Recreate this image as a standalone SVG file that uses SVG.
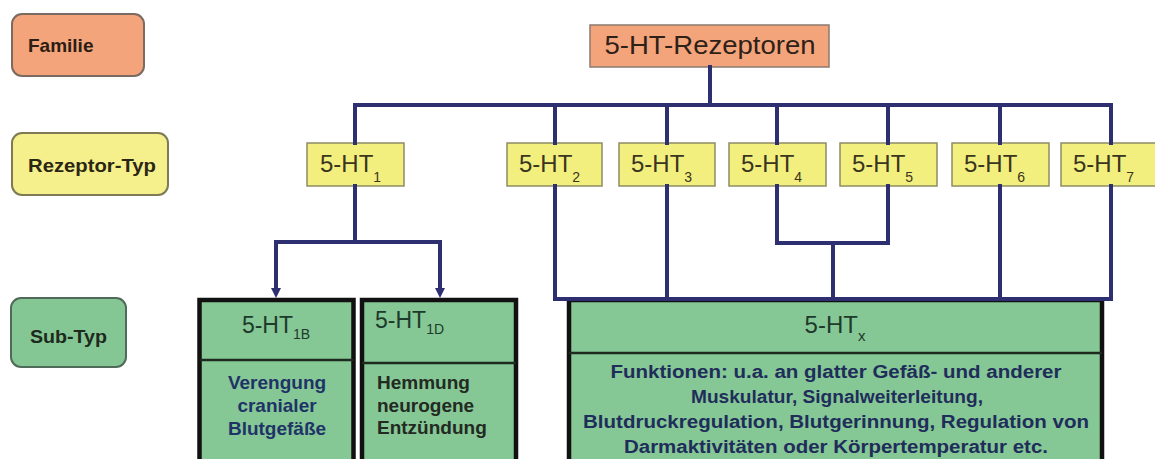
<svg xmlns="http://www.w3.org/2000/svg" width="1155" height="459" viewBox="0 0 1155 459">
<style>
.t{font-family:"Liberation Sans",Arial,Helvetica,sans-serif}
.b{font-weight:bold}
.ln{stroke:#2d2f70;stroke-width:4;fill:none;stroke-linejoin:miter;stroke-linecap:square}
.rt{fill:#F3EF7E;stroke:#8f8c66;stroke-width:1.5}
.rl{font-size:24px;fill:#3a3520}
.sb{font-size:14px}
.sub{fill:#86C796;stroke:#111;stroke-width:4.5}
.dv{stroke:#1d2a1d;stroke-width:2.5}
.fn{font-size:18px;fill:#1f2d5a;text-anchor:middle}
</style>
<defs>
<marker id="ah" viewBox="0 0 10 10" refX="5" refY="10" markerWidth="10" markerHeight="10" markerUnits="userSpaceOnUse" orient="auto-start-reverse">
<path d="M0,0 L10,0 L5,10 Z" fill="#2d2f70"/>
</marker>
</defs>
<rect width="1155" height="459" fill="#ffffff"/>

<g id="legend-familie">
<rect x="12" y="14" width="132" height="62" rx="10" fill="#F4A47A" stroke="#7a6a60" stroke-width="2"/>
<text class="t b" x="28" y="52" font-size="19" fill="#2b1d14">Familie</text>
</g>
<g id="legend-rezeptortyp">
<rect x="12" y="133" width="156" height="62" rx="10" fill="#F5F08C" stroke="#7d7a55" stroke-width="2"/>
<text class="t b" x="28" y="172" font-size="19" fill="#2b2614" textLength="128" lengthAdjust="spacingAndGlyphs">Rezeptor-Typ</text>
</g>
<g id="legend-subtyp">
<rect x="11" y="298" width="115" height="69" rx="10" fill="#85C794" stroke="#4f6a58" stroke-width="2"/>
<text class="t b" x="30" y="343" font-size="19" fill="#1d2a1d" textLength="77" lengthAdjust="spacingAndGlyphs">Sub-Typ</text>
</g>

<g id="family-5ht">
<rect x="590" y="25" width="239" height="42" fill="#F4A47A" stroke="#8a7a70" stroke-width="1.5"/>
<text class="t" x="710" y="54" font-size="26" fill="#2e2118" text-anchor="middle" textLength="211" lengthAdjust="spacingAndGlyphs">5-HT-Rezeptoren</text>
</g>

<g id="r1"><rect class="rt" x="307" y="143" width="97" height="43"/><text class="t rl" x="320" y="172">5-HT<tspan class="sb" dy="10">1</tspan></text></g>
<g id="r2"><rect class="rt" x="507" y="143" width="95" height="43"/><text class="t rl" x="519" y="172">5-HT<tspan class="sb" dy="10">2</tspan></text></g>
<g id="r3"><rect class="rt" x="619" y="143" width="96" height="43"/><text class="t rl" x="631" y="172">5-HT<tspan class="sb" dy="10">3</tspan></text></g>
<g id="r4"><rect class="rt" x="729" y="143" width="97" height="43"/><text class="t rl" x="741" y="172">5-HT<tspan class="sb" dy="10">4</tspan></text></g>
<g id="r5"><rect class="rt" x="840" y="143" width="97" height="43"/><text class="t rl" x="852" y="172">5-HT<tspan class="sb" dy="10">5</tspan></text></g>
<g id="r6"><rect class="rt" x="952" y="143" width="97" height="43"/><text class="t rl" x="964" y="172">5-HT<tspan class="sb" dy="10">6</tspan></text></g>
<g id="r7"><rect class="rt" x="1061" y="143" width="97" height="43"/><text class="t rl" x="1073" y="172">5-HT<tspan class="sb" dy="10">7</tspan></text></g>

<g id="sub-1b">
<rect class="sub" x="199.5" y="300" width="154" height="175"/>
<line class="dv" x1="199.5" y1="360" x2="353.5" y2="360"/>
<text class="t" x="276" y="333" font-size="23" fill="#1d3a2a" text-anchor="middle">5-HT<tspan font-size="14" dy="6">1B</tspan></text>
<text class="t b" font-size="19" fill="#1f3466" text-anchor="middle"><tspan x="277" y="389">Verengung</tspan><tspan x="277" y="412">cranialer</tspan><tspan x="277" y="435">Blutgefäße</tspan></text>
</g>
<g id="sub-1d">
<rect class="sub" x="362" y="300" width="154" height="175"/>
<line class="dv" x1="362" y1="363" x2="516" y2="363"/>
<text class="t" x="375" y="328" font-size="23" fill="#1d3a2a">5-HT<tspan font-size="14" dy="6">1D</tspan></text>
<text class="t b" font-size="19" fill="#232a22"><tspan x="377" y="389">Hemmung</tspan><tspan x="377" y="412">neurogene</tspan><tspan x="377" y="434">Entzündung</tspan></text>
</g>
<g id="sub-x">
<rect class="sub" x="569" y="300" width="533" height="175"/>
<line class="dv" x1="569" y1="353" x2="1102" y2="353"/>
<text class="t" x="835" y="333" font-size="24" fill="#1d3a2a" text-anchor="middle">5-HT<tspan font-size="15" dy="8">x</tspan></text>
<text class="t b fn" x="836" y="378" textLength="451" lengthAdjust="spacingAndGlyphs">Funktionen: u.a. an glatter Gefäß- und anderer</text>
<text class="t b fn" x="837" y="403" textLength="292" lengthAdjust="spacingAndGlyphs">Muskulatur, Signalweiterleitung,</text>
<text class="t b fn" x="836" y="428" textLength="506" lengthAdjust="spacingAndGlyphs">Blutdruckregulation, Blutgerinnung, Regulation von</text>
<text class="t b fn" x="836" y="453" textLength="424" lengthAdjust="spacingAndGlyphs">Darmaktivitäten oder Körpertemperatur etc.</text>
</g>

<g id="connectors">
<path class="ln" d="M710,67 V105"/>
<path class="ln" d="M355,143 V105 H1111 V143"/>
<path class="ln" d="M555,105 V143 M667,105 V143 M777,105 V143 M888,105 V143 M1000,105 V143"/>
<path class="ln" d="M355,186 V242"/>
<path class="ln" d="M276,289 V242 H440 V289" style="stroke-linecap:butt"/>
<path d="M271,288 L281,288 L276,298 Z" fill="#2d2f70"/>
<path d="M435,288 L445,288 L440,298 Z" fill="#2d2f70"/>
<path class="ln" d="M777,186 V243 H888 V186 M833,243 V299"/>
<path class="ln" d="M555,186 V299 H1111 V186 M667,186 V299 M1000,186 V299"/>
</g>
</svg>
